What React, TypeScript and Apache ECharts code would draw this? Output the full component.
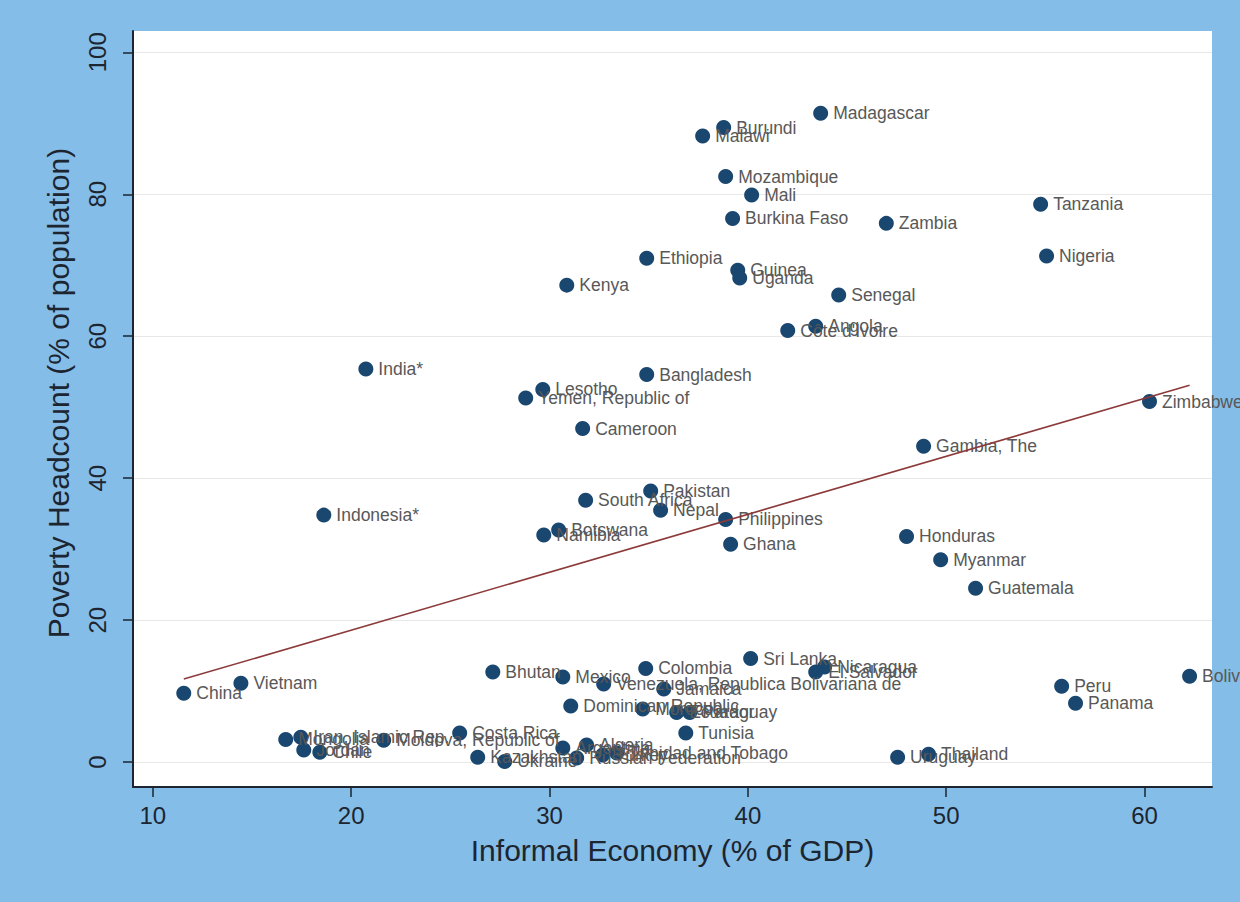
import React, { useEffect, useRef } from "react";
import * as echarts from "echarts";

const countries = [
  "Madagascar", "Burundi", "Malawi", "Mozambique", "Mali", "Burkina Faso", "Zambia", "Tanzania", "Nigeria",
  "Ethiopia", "Guinea", "Uganda", "Kenya", "Senegal", "Angola", "Côte d'Ivoire", "India*", "Bangladesh",
  "Lesotho", "Yemen, Republic of", "Cameroon", "Zimbabwe", "Gambia, The", "Pakistan", "South Africa", "Nepal",
  "Philippines", "Indonesia*", "Botswana", "Namibia", "Ghana", "Honduras", "Myanmar", "Guatemala",
  "Sri Lanka", "Nicaragua", "El Salvador", "Colombia", "Bhutan", "Mexico", "Venezuela, Republica Bolivariana de",
  "Jamaica", "Dominican Republic", "Morocco", "Ecuador", "Paraguay", "Tunisia", "Costa Rica", "Algeria",
  "Argentina", "Trinidad and Tobago", "Turkey", "Russian Federation", "Kazakhstan", "Ukraine",
  "Uruguay", "Thailand", "Peru", "Panama", "Bolivia", "China", "Vietnam",
  "Mongolia", "Iran, Islamic Rep.", "Jordan", "Chile", "Moldova, Republic of",
];

const informal = [
  43.67, 38.78, 37.72, 38.88, 40.19, 39.23, 46.98, 54.76, 55.06,
  34.9, 39.49, 39.59, 30.87, 44.58, 43.42, 42.01, 20.74, 34.9,
  29.66, 28.8, 31.67, 60.25, 48.86, 35.1, 31.82, 35.6,
  38.88, 18.62, 30.46, 29.71, 39.13, 48.0, 49.72, 51.48,
  40.14, 43.87, 43.42, 34.85, 27.14, 30.67, 32.73,
  35.76, 31.07, 34.7, 36.41, 37.07, 36.87, 25.47, 31.87,
  30.67, 33.39, 32.68, 31.37, 26.38, 27.74,
  47.55, 49.11, 55.82, 56.52, 62.27, 11.56, 14.44,
  16.7, 17.46, 17.61, 18.42, 21.64,
];

const poverty = [
  91.4, 89.4, 88.2, 82.5, 79.9, 76.6, 75.9, 78.6, 71.3,
  71.0, 69.3, 68.2, 67.2, 65.8, 61.4, 60.8, 55.4, 54.6,
  52.5, 51.3, 47.0, 50.8, 44.5, 38.2, 36.9, 35.5,
  34.2, 34.8, 32.7, 32.0, 30.7, 31.8, 28.5, 24.5,
  14.6, 13.4, 12.7, 13.2, 12.7, 12.0, 11.0,
  10.3, 7.9, 7.5, 7.0, 7.0, 4.1, 4.1, 2.4,
  2.0, 1.3, 1.0, 0.6, 0.7, 0.1,
  0.7, 1.1, 10.7, 8.3, 12.1, 9.7, 11.1,
  3.2, 3.5, 1.7, 1.4, 3.1,
];

const xTicks = [10, 20, 30, 40, 50, 60];
const yTicks = [0, 20, 40, 60, 80, 100];
const fitX = [11.56, 62.27];
const fitY = [11.7, 53.1];

const xTitle = "Informal Economy (% of GDP)";
const yTitle = "Poverty Headcount (% of population)";

const BLUE = "#84bde7";
const INK = "#1c2530";
const FONT = "'Liberation Sans', Arial, sans-serif";

export default function App() {
  const ref = useRef<HTMLDivElement>(null);
  useEffect(() => {
    if (!ref.current) return;
    const chart = echarts.init(ref.current, null, { renderer: "svg" });
    const pts = countries.map((n, i) => ({ name: n, value: [informal[i], poverty[i]] }));
    const fit = fitX.map((x, i) => [x, fitY[i]]);
    chart.setOption({
      animation: false,
      backgroundColor: BLUE,
      textStyle: { fontFamily: FONT },
      grid: {
        left: 133, right: 28, top: 31, bottom: 115,
        show: true, backgroundColor: "#ffffff", borderWidth: 0,
      },
      xAxis: {
        type: "value", min: 9, max: 63.4,
        name: xTitle, nameLocation: "middle", nameGap: 48,
        nameTextStyle: { fontSize: 30, color: INK, fontFamily: FONT },
        axisLine: { show: true, onZero: false, lineStyle: { color: INK, width: 2 } },
        axisTick: { show: true, length: 10, customValues: xTicks, lineStyle: { color: INK, width: 1.5 } },
        axisLabel: { customValues: xTicks, fontSize: 24, color: INK, margin: 16, fontFamily: FONT },
        splitLine: { show: false },
      },
      yAxis: {
        type: "value", min: -3.5, max: 103,
        name: yTitle, nameLocation: "middle", nameGap: 60,
        nameTextStyle: { fontSize: 30, color: INK, fontFamily: FONT, padding: [0, 0, 0, 32] },
        axisLine: { show: true, onZero: false, lineStyle: { color: INK, width: 2 } },
        axisTick: { show: true, length: 10, customValues: yTicks, lineStyle: { color: INK, width: 1.5 } },
        axisLabel: { customValues: yTicks, fontSize: 24, color: INK, rotate: 90, margin: 24, fontFamily: FONT },
        splitLine: { show: true, lineStyle: { color: "#e8e8e8", width: 1.2 } },
      },
      series: [
        {
          type: "scatter",
          data: pts,
          symbol: "circle",
          symbolSize: 15,
          itemStyle: { color: "#1a476f", opacity: 1 },
          label: {
            show: true, position: "right", distance: 5, formatter: "{b}",
            fontSize: 17.5, color: "#585858", fontFamily: FONT,
          },
          z: 2,
        },
        {
          type: "line",
          data: fit,
          symbol: "none",
          lineStyle: { color: "#8c3a3a", width: 1.6 },
          z: 3,
        },
      ],
    });
    return () => chart.dispose();
  }, []);
  return (
    <div
      ref={ref}
      style={{ position: "fixed", left: 0, top: 0, width: 1240, height: 902 }}
    />
  );
}
